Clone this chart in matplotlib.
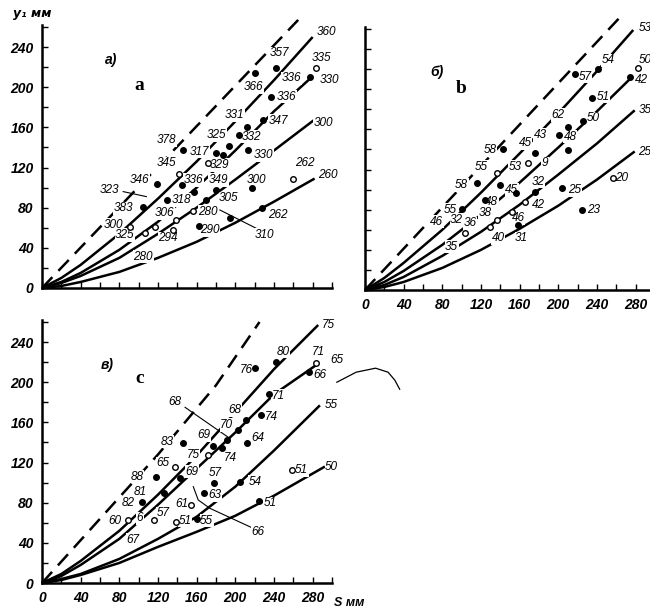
import matplotlib
matplotlib.use("Agg")
import matplotlib.pyplot as plt

plt.rcParams["font.family"] = ["Liberation Sans", "DejaVu Sans"]

# ---------------- panel a ----------------
A_DASH_X = [0, 265]
A_DASH_Y = [0, 267]
A_CURVE_X = [
    [0, 20, 40, 80, 120, 160, 200, 240, 280],
    [0, 20, 40, 80, 120, 160, 200, 240, 279],
    [0, 20, 40, 80, 120, 160, 200, 240, 281],
    [0, 20, 40, 80, 120, 160, 200, 240, 282],
]
A_CURVE_Y = [
    [0, 10, 23, 54, 89, 126, 166, 207, 250],
    [0, 6, 15, 38, 66, 100, 137, 176, 210],
    [0, 5, 12, 30, 54, 80, 108, 137, 167],
    [0, 2, 6, 16, 30, 46, 65, 86, 109],
]
A_FILLED_X = [242, 220, 277, 236.5, 229, 212, 203.7, 193, 213, 180, 187, 146,
              118.6, 104.8, 145, 180, 129, 157.5, 216.8, 170, 162, 228, 194]
A_FILLED_Y = [218.8, 214, 210.5, 190.5, 167, 160.7, 152.4, 141.7, 137.5, 134, 132.5, 137.5,
              104, 80.4, 102.6, 97.6, 87.6, 96, 99.3, 87.6, 61.8, 79.4, 69.4]
A_OPEN_X = [283, 141.7, 172, 117, 139, 156, 135, 106.5, 91, 260]
A_OPEN_Y = [219, 114, 124, 61, 67.7, 77, 57.8, 54.5, 61, 109]
A_TEXT = ["357", "366", "335", "336", "330", "336", "347", "331", "325", "332", "378",
          "317", "330", "345", "329", "262", "346", "336", "349", "300", "323", "318",
          "305", "383", "306", "280", "262", "300", "290", "325", "310", "294", "280",
          "360", "300", "260"]
A_TEXT_X = [246, 218.5, 289, 258, 297.8, 253, 244.4, 199.6, 180.7, 216.8, 129,
            163.4, 228.9, 129, 184, 272, 101.3, 156.5, 182.3, 222, 70.3, 144.5,
            192.7, 84, 127.2, 172, 244.4, 73.7, 173.7, 85.8, 230.6, 130.6, 104.8,
            294.4, 291, 296]
A_TEXT_Y = [233.8, 200, 228.8, 208.8, 207, 190.5, 166.6, 172.3, 152.4, 150.7, 147.4,
            135.8, 132.5, 124.2, 122.5, 124.2, 107.6, 107.6, 107.6, 107.6, 97.6, 87.6,
            89.3, 79.4, 74.4, 76, 72.7, 62.7, 57.8, 52.8, 52.8, 49.5, 31.2,
            255.3, 164, 112.5]
A_LEADERS = [([84, 108], [96, 91]), ([184, 225], [77.7, 57.8])]

# ---------------- panel b ----------------
B_DASH_X = [0, 267]
B_DASH_Y = [0, 275]
B_CURVE_X = [
    [0, 20, 40, 80, 120, 160, 200, 240, 277.5],
    [0, 20, 40, 80, 120, 160, 200, 240, 276],
    [0, 20, 40, 80, 120, 160, 200, 240, 279],
    [0, 20, 40, 80, 120, 160, 200, 240, 279],
]
B_CURVE_Y = [
    [0, 12, 27, 60, 97, 136, 176, 218, 259],
    [0, 8, 19, 45, 75, 107, 142, 178, 212],
    [0, 5, 13, 34, 58, 85, 115, 146, 179],
    [0, 3, 8, 22, 40, 61, 84, 110, 138],
]
B_FILLED_X = [217, 241, 274, 234.4, 210, 225.8, 200.6, 210, 143, 175.8, 115.5, 139.6,
              124, 156, 100, 175.8, 203.4, 224, 158]
B_FILLED_Y = [215, 219.8, 211.8, 191, 162.6, 168.6, 154.4, 139.4, 140.1, 136.1, 106.9,
              104.6, 89.6, 97, 80.4, 98, 101.3, 79.7, 64.7]
B_OPEN_X = [282, 169, 136.2, 256.8, 165.5, 151.7, 136.2, 129.3, 103.4]
B_OPEN_Y = [220.8, 126.2, 116.2, 111.2, 88, 78, 69.7, 63, 56.5]
B_TEXT = ["53", "54", "57", "50", "42", "51", "35", "62", "50", "48", "45", "43", "58",
          "25", "9", "55", "53", "20", "58", "45", "32", "25", "48", "42", "55", "23",
          "38", "46", "46", "32", "36", "35", "40", "31"]
B_TEXT_X = [289.6, 251.6, 227.5, 289.6, 286, 246.4, 289.6, 200, 236, 212, 165.5, 181,
            129.3, 289.6, 186, 120.7, 155, 265.4, 100, 151.7, 179.2, 217, 131, 179.2,
            88, 236, 124, 158.5, 74, 94.8, 108.6, 89.6, 137.8, 162]
B_TEXT_Y = [260.6, 229, 212.5, 229, 209, 192.5, 179.3, 174.3, 171, 152.7, 146, 154.4,
            139.4, 137.7, 126.2, 122.8, 122.8, 111.2, 104.6, 99.6, 107.9, 99.6, 88, 84.7,
            79.7, 79.7, 76.4, 71.4, 68, 69.7, 66.4, 43.1, 51.5, 51.5]

# ---------------- panel c ----------------
C_DASH_X = [0, 60, 120, 180, 225]
C_DASH_Y = [0, 64, 128, 197, 260]
C_CURVE_X = [
    [0, 20, 40, 80, 120, 160, 200, 240, 285.7],
    [0, 20, 40, 80, 120, 160, 200, 240, 285],
    [0, 20, 40, 80, 120, 160, 200, 240, 287.5],
    [0, 20, 40, 80, 120, 160, 200, 240, 292.6],
]
C_CURVE_Y = [
    [0, 9, 22, 52, 88, 127, 170, 213, 257],
    [0, 7, 18, 44, 78, 114, 150, 188, 218],
    [0, 4, 9, 24, 44, 66, 96, 132, 177],
    [0, 3, 8, 20, 36, 51, 67, 87, 116],
]
C_FILLED_X = [220, 242, 276.4, 235, 211, 227, 203, 211.7, 191.6, 177, 185.8, 145.5,
              142.7, 118, 177.9, 126, 167.5, 204.8, 103, 224.7, 160]
C_FILLED_Y = [213.8, 219.8, 210.5, 188, 162.3, 167.3, 152.4, 139, 142.4, 136.5, 134, 139,
              104.3, 105.9, 99.3, 89.3, 90, 101, 81, 82, 64]
C_OPEN_X = [283, 172, 137.5, 153.8, 259, 116, 89, 139]
C_OPEN_Y = [218.8, 127.5, 115.8, 77.7, 112.5, 62.7, 62.7, 61]
C_TEXT = ["75", "80", "76", "71", "65", "66", "71", "68", "55", "68", "74", "70", "64",
          "69", "83", "75", "74", "65", "69", "57", "51", "50", "88", "54", "81", "63",
          "82", "61", "51", "57", "60", "6", "51", "55", "66", "67"]
C_TEXT_X = [296, 249.5, 211.7, 285.7, 304.7, 287.5, 244.4, 137.5, 299.6, 199.6, 237.5,
            191, 223.7, 167.5, 129, 156.5, 194.4, 125.5, 154.8, 179, 268.6, 299.6, 98,
            220.3, 101.3, 179, 89.3, 144.5, 235.8, 125.5, 75.5, 101.3, 147.9, 170.3,
            223.7, 94.4]
C_TEXT_Y = [257, 230.4, 212.2, 230.4, 222, 207, 186.3, 180.6, 177.3, 172.3, 165.6,
            157.4, 144.1, 147.4, 140.7, 127.5, 124.2, 119.2, 110.9, 109.2, 112.5, 115.8,
            105.9, 100.9, 91, 87.6, 80, 78.7, 79.4, 69.4, 62, 64.4, 62, 62, 51.1, 42.8]
C_LEADERS = [([148, 194.4], [175, 144]),
             ([156.5, 161.6, 173.7, 218.5], [96, 82.7, 74.4, 54.5])]
C_SCRIBBLE_X = [305, 325, 345, 358, 365, 370]
C_SCRIBBLE_Y = [200, 210, 214, 210, 202, 193]

TICK_FONT = dict(fontsize=10, fontstyle="italic", fontweight="bold")
NUM_FONT = dict(fontsize=8.5, fontstyle="italic")


def setup_axes(ax, xlabels, ylabels):
    ax.set_xlim(0, 300)
    ax.set_ylim(0, 262)
    for side in ("top", "right"):
        ax.spines[side].set_visible(False)
    for side in ("left", "bottom"):
        ax.spines[side].set_linewidth(1.8)
    ax.set_xticks(range(0, 301, 20))
    ax.set_yticks(range(0, 261, 20))
    ax.tick_params(direction="in", length=4, width=1.0, pad=6)
    if xlabels:
        ax.set_xticklabels([str(v) if v % 40 == 0 and v <= 280 else "" for v in range(0, 301, 20)],
                           **TICK_FONT)
    else:
        ax.set_xticklabels([])
    if ylabels:
        ax.set_yticklabels([str(v) if v % 40 == 0 else "" for v in range(0, 261, 20)], **TICK_FONT)
    else:
        ax.set_yticklabels([])


def draw_panel(ax, dash, curves, filled, opened, texts, leaders=()):
    ax.plot(dash[0], dash[1], color="black", lw=1.8, dashes=(6, 3.5), clip_on=False, zorder=2)
    for xs, ys in zip(curves[0], curves[1]):
        ax.plot(xs, ys, color="black", lw=1.8, solid_capstyle="butt", zorder=2)
    ax.plot(filled[0], filled[1], "o", color="black", ms=4, zorder=6)
    ax.plot(opened[0], opened[1], "o", mfc="white", mec="black", mew=1.0, ms=4, zorder=6)
    for lx, ly in leaders:
        ax.plot(lx, ly, color="black", lw=0.8, zorder=3)
    for t, x, y in zip(*texts):
        ax.text(x, y, t, ha="center", va="center", zorder=4, clip_on=False,
                bbox=dict(boxstyle="square,pad=0.05", fc="white", ec="none"), **NUM_FONT)


fig = plt.figure(figsize=(6.5, 6.13), dpi=100)
ax_a = fig.add_axes([0.0646, 0.5302, 0.4462, 0.4291])
ax_b = fig.add_axes([0.5615, 0.5269, 0.4462, 0.4291])
ax_c = fig.add_axes([0.0646, 0.0489, 0.4462, 0.4291])

setup_axes(ax_a, False, True)
setup_axes(ax_b, True, False)
setup_axes(ax_c, True, True)

draw_panel(ax_a, (A_DASH_X, A_DASH_Y), (A_CURVE_X, A_CURVE_Y), (A_FILLED_X, A_FILLED_Y),
           (A_OPEN_X, A_OPEN_Y), (A_TEXT, A_TEXT_X, A_TEXT_Y), A_LEADERS)
draw_panel(ax_b, (B_DASH_X, B_DASH_Y), (B_CURVE_X, B_CURVE_Y), (B_FILLED_X, B_FILLED_Y),
           (B_OPEN_X, B_OPEN_Y), (B_TEXT, B_TEXT_X, B_TEXT_Y))
draw_panel(ax_c, (C_DASH_X, C_DASH_Y), (C_CURVE_X, C_CURVE_Y), (C_FILLED_X, C_FILLED_Y),
           (C_OPEN_X, C_OPEN_Y), (C_TEXT, C_TEXT_X, C_TEXT_Y), C_LEADERS)
ax_c.plot(C_SCRIBBLE_X, C_SCRIBBLE_Y, color="black", lw=0.9, clip_on=False)

# panel captions
for ax, cap, letter, cx, cy, lx, ly in [
    (ax_a, "а)", "a", 72, 227, 101, 202),
    (ax_b, "б)", "b", 74, 217, 100, 201),
    (ax_c, "в)", "c", 67, 217, 101, 204),
]:
    ax.text(cx, cy, cap, ha="center", va="center", fontsize=10, fontstyle="italic", fontweight="bold")
    ax.text(lx, ly, letter, ha="center", va="center", fontsize=14, fontweight="bold",
            family="Liberation Serif")

ax_a.text(-10, 273, "y₁ мм", ha="center", va="center", clip_on=False,
          fontsize=9, fontstyle="italic", fontweight="bold", family=["DejaVu Sans"])
ax_c.text(302, -20, "S мм", ha="left", va="center", clip_on=False,
          fontsize=9, fontstyle="italic", fontweight="bold")

fig.savefig("out.png", dpi=100)
